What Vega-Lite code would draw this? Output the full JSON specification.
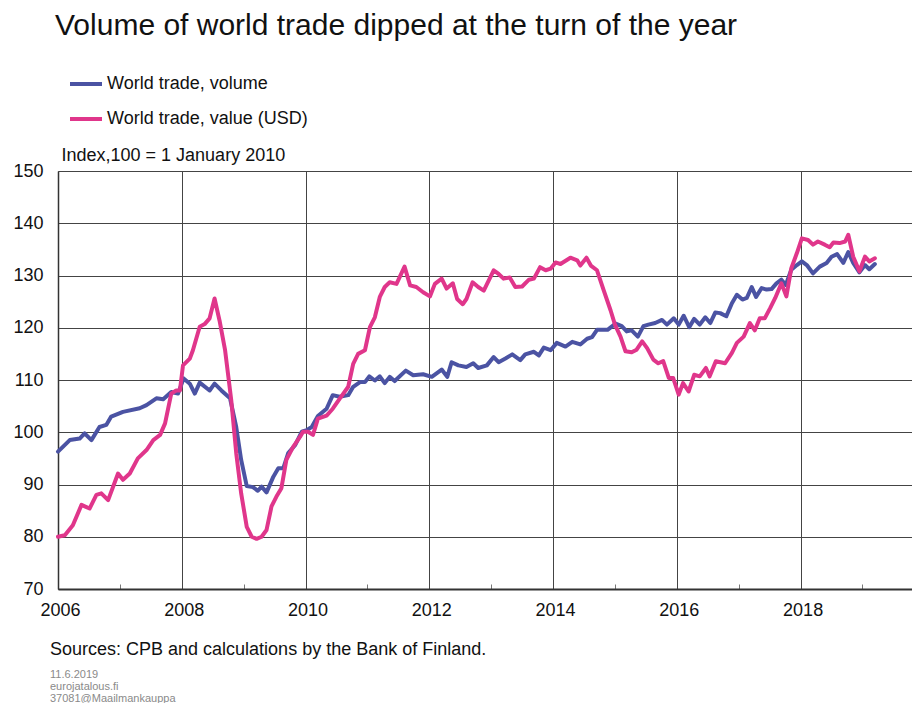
{
  "$schema": "https://vega.github.io/schema/vega-lite/v6.json",
  "width": 854,
  "height": 418,
  "autosize": {"type": "none"},
  "padding": {"left": 58, "top": 171, "right": 0, "bottom": 114},
  "background": "white",
  "config": {"view": {"stroke": null}, "font": "Liberation Sans"},
  "title": {
    "text": "Sources: CPB and calculations by the Bank of Finland.",
    "subtitle": ["11.6.2019", "eurojatalous.fi", "37081@Maailmankauppa"],
    "orient": "bottom",
    "anchor": "start",
    "frame": "group",
    "dx": -8,
    "offset": 22,
    "font": "Liberation Sans",
    "fontSize": 18,
    "fontWeight": "normal",
    "color": "#111111",
    "subtitleFont": "Liberation Sans",
    "subtitleFontSize": 11,
    "subtitleColor": "#8a8a8a",
    "subtitleLineHeight": 12,
    "subtitlePadding": 10
  },
  "data": {"values": [
    {"series": "World trade, volume", "year": 2006.00, "index": 96.3},
    {"series": "World trade, volume", "year": 2006.19, "index": 98.5},
    {"series": "World trade, volume", "year": 2006.35, "index": 98.8},
    {"series": "World trade, volume", "year": 2006.43, "index": 99.8},
    {"series": "World trade, volume", "year": 2006.54, "index": 98.5},
    {"series": "World trade, volume", "year": 2006.67, "index": 101.0},
    {"series": "World trade, volume", "year": 2006.78, "index": 101.4},
    {"series": "World trade, volume", "year": 2006.86, "index": 103.0},
    {"series": "World trade, volume", "year": 2007.05, "index": 103.9},
    {"series": "World trade, volume", "year": 2007.32, "index": 104.6},
    {"series": "World trade, volume", "year": 2007.43, "index": 105.2},
    {"series": "World trade, volume", "year": 2007.59, "index": 106.5},
    {"series": "World trade, volume", "year": 2007.70, "index": 106.3},
    {"series": "World trade, volume", "year": 2007.83, "index": 107.7},
    {"series": "World trade, volume", "year": 2007.94, "index": 107.4},
    {"series": "World trade, volume", "year": 2008.03, "index": 110.3},
    {"series": "World trade, volume", "year": 2008.13, "index": 109.3},
    {"series": "World trade, volume", "year": 2008.21, "index": 107.4},
    {"series": "World trade, volume", "year": 2008.29, "index": 109.5},
    {"series": "World trade, volume", "year": 2008.45, "index": 108.0},
    {"series": "World trade, volume", "year": 2008.53, "index": 109.3},
    {"series": "World trade, volume", "year": 2008.64, "index": 108.0},
    {"series": "World trade, volume", "year": 2008.78, "index": 106.5},
    {"series": "World trade, volume", "year": 2008.88, "index": 101.0},
    {"series": "World trade, volume", "year": 2008.96, "index": 94.7},
    {"series": "World trade, volume", "year": 2009.05, "index": 89.7},
    {"series": "World trade, volume", "year": 2009.15, "index": 89.5},
    {"series": "World trade, volume", "year": 2009.23, "index": 88.8},
    {"series": "World trade, volume", "year": 2009.29, "index": 89.6},
    {"series": "World trade, volume", "year": 2009.37, "index": 88.5},
    {"series": "World trade, volume", "year": 2009.48, "index": 91.5},
    {"series": "World trade, volume", "year": 2009.56, "index": 93.1},
    {"series": "World trade, volume", "year": 2009.64, "index": 93.1},
    {"series": "World trade, volume", "year": 2009.72, "index": 96.0},
    {"series": "World trade, volume", "year": 2009.83, "index": 97.5},
    {"series": "World trade, volume", "year": 2009.94, "index": 100.1},
    {"series": "World trade, volume", "year": 2010.02, "index": 100.4},
    {"series": "World trade, volume", "year": 2010.10, "index": 101.0},
    {"series": "World trade, volume", "year": 2010.20, "index": 103.1},
    {"series": "World trade, volume", "year": 2010.34, "index": 104.5},
    {"series": "World trade, volume", "year": 2010.44, "index": 107.1},
    {"series": "World trade, volume", "year": 2010.55, "index": 106.8},
    {"series": "World trade, volume", "year": 2010.69, "index": 107.1},
    {"series": "World trade, volume", "year": 2010.77, "index": 108.7},
    {"series": "World trade, volume", "year": 2010.88, "index": 109.6},
    {"series": "World trade, volume", "year": 2010.96, "index": 109.6},
    {"series": "World trade, volume", "year": 2011.03, "index": 110.7},
    {"series": "World trade, volume", "year": 2011.12, "index": 109.9},
    {"series": "World trade, volume", "year": 2011.20, "index": 110.7},
    {"series": "World trade, volume", "year": 2011.28, "index": 109.4},
    {"series": "World trade, volume", "year": 2011.36, "index": 110.6},
    {"series": "World trade, volume", "year": 2011.44, "index": 109.8},
    {"series": "World trade, volume", "year": 2011.62, "index": 111.8},
    {"series": "World trade, volume", "year": 2011.74, "index": 110.9},
    {"series": "World trade, volume", "year": 2011.90, "index": 111.1},
    {"series": "World trade, volume", "year": 2012.04, "index": 110.6},
    {"series": "World trade, volume", "year": 2012.20, "index": 112.0},
    {"series": "World trade, volume", "year": 2012.29, "index": 110.6},
    {"series": "World trade, volume", "year": 2012.36, "index": 113.4},
    {"series": "World trade, volume", "year": 2012.47, "index": 112.8},
    {"series": "World trade, volume", "year": 2012.60, "index": 112.5},
    {"series": "World trade, volume", "year": 2012.71, "index": 113.2},
    {"series": "World trade, volume", "year": 2012.79, "index": 112.3},
    {"series": "World trade, volume", "year": 2012.93, "index": 112.8},
    {"series": "World trade, volume", "year": 2013.04, "index": 114.4},
    {"series": "World trade, volume", "year": 2013.12, "index": 113.4},
    {"series": "World trade, volume", "year": 2013.23, "index": 114.1},
    {"series": "World trade, volume", "year": 2013.34, "index": 114.9},
    {"series": "World trade, volume", "year": 2013.47, "index": 113.8},
    {"series": "World trade, volume", "year": 2013.55, "index": 114.9},
    {"series": "World trade, volume", "year": 2013.69, "index": 115.4},
    {"series": "World trade, volume", "year": 2013.77, "index": 114.7},
    {"series": "World trade, volume", "year": 2013.85, "index": 116.2},
    {"series": "World trade, volume", "year": 2013.96, "index": 115.7},
    {"series": "World trade, volume", "year": 2014.06, "index": 117.1},
    {"series": "World trade, volume", "year": 2014.20, "index": 116.4},
    {"series": "World trade, volume", "year": 2014.31, "index": 117.3},
    {"series": "World trade, volume", "year": 2014.44, "index": 116.8},
    {"series": "World trade, volume", "year": 2014.55, "index": 117.9},
    {"series": "World trade, volume", "year": 2014.63, "index": 118.2},
    {"series": "World trade, volume", "year": 2014.71, "index": 119.6},
    {"series": "World trade, volume", "year": 2014.88, "index": 119.6},
    {"series": "World trade, volume", "year": 2015.01, "index": 120.8},
    {"series": "World trade, volume", "year": 2015.11, "index": 120.3},
    {"series": "World trade, volume", "year": 2015.19, "index": 119.3},
    {"series": "World trade, volume", "year": 2015.27, "index": 119.5},
    {"series": "World trade, volume", "year": 2015.37, "index": 118.3},
    {"series": "World trade, volume", "year": 2015.46, "index": 120.3},
    {"series": "World trade, volume", "year": 2015.54, "index": 120.6},
    {"series": "World trade, volume", "year": 2015.65, "index": 120.9},
    {"series": "World trade, volume", "year": 2015.76, "index": 121.5},
    {"series": "World trade, volume", "year": 2015.84, "index": 120.6},
    {"series": "World trade, volume", "year": 2015.95, "index": 121.8},
    {"series": "World trade, volume", "year": 2016.03, "index": 120.6},
    {"series": "World trade, volume", "year": 2016.11, "index": 122.3},
    {"series": "World trade, volume", "year": 2016.20, "index": 120.1},
    {"series": "World trade, volume", "year": 2016.28, "index": 121.7},
    {"series": "World trade, volume", "year": 2016.37, "index": 120.6},
    {"series": "World trade, volume", "year": 2016.46, "index": 122.0},
    {"series": "World trade, volume", "year": 2016.54, "index": 120.9},
    {"series": "World trade, volume", "year": 2016.62, "index": 122.9},
    {"series": "World trade, volume", "year": 2016.70, "index": 122.8},
    {"series": "World trade, volume", "year": 2016.80, "index": 122.2},
    {"series": "World trade, volume", "year": 2016.89, "index": 124.7},
    {"series": "World trade, volume", "year": 2016.97, "index": 126.3},
    {"series": "World trade, volume", "year": 2017.06, "index": 125.4},
    {"series": "World trade, volume", "year": 2017.13, "index": 125.7},
    {"series": "World trade, volume", "year": 2017.21, "index": 127.8},
    {"series": "World trade, volume", "year": 2017.28, "index": 125.9},
    {"series": "World trade, volume", "year": 2017.37, "index": 127.6},
    {"series": "World trade, volume", "year": 2017.45, "index": 127.3},
    {"series": "World trade, volume", "year": 2017.53, "index": 127.4},
    {"series": "World trade, volume", "year": 2017.61, "index": 128.5},
    {"series": "World trade, volume", "year": 2017.69, "index": 129.2},
    {"series": "World trade, volume", "year": 2017.76, "index": 128.2},
    {"series": "World trade, volume", "year": 2017.85, "index": 131.1},
    {"series": "World trade, volume", "year": 2017.94, "index": 132.0},
    {"series": "World trade, volume", "year": 2018.02, "index": 132.7},
    {"series": "World trade, volume", "year": 2018.10, "index": 132.0},
    {"series": "World trade, volume", "year": 2018.20, "index": 130.4},
    {"series": "World trade, volume", "year": 2018.31, "index": 131.7},
    {"series": "World trade, volume", "year": 2018.42, "index": 132.4},
    {"series": "World trade, volume", "year": 2018.50, "index": 133.6},
    {"series": "World trade, volume", "year": 2018.59, "index": 134.1},
    {"series": "World trade, volume", "year": 2018.69, "index": 132.4},
    {"series": "World trade, volume", "year": 2018.77, "index": 134.5},
    {"series": "World trade, volume", "year": 2018.85, "index": 132.4},
    {"series": "World trade, volume", "year": 2018.95, "index": 130.6},
    {"series": "World trade, volume", "year": 2019.04, "index": 132.0},
    {"series": "World trade, volume", "year": 2019.11, "index": 131.2},
    {"series": "World trade, volume", "year": 2019.20, "index": 132.2},
    {"series": "World trade, value (USD)", "year": 2006.00, "index": 80.0},
    {"series": "World trade, value (USD)", "year": 2006.11, "index": 80.3},
    {"series": "World trade, value (USD)", "year": 2006.24, "index": 82.2},
    {"series": "World trade, value (USD)", "year": 2006.38, "index": 86.1},
    {"series": "World trade, value (USD)", "year": 2006.51, "index": 85.4},
    {"series": "World trade, value (USD)", "year": 2006.62, "index": 88.0},
    {"series": "World trade, value (USD)", "year": 2006.70, "index": 88.3},
    {"series": "World trade, value (USD)", "year": 2006.81, "index": 87.0},
    {"series": "World trade, value (USD)", "year": 2006.97, "index": 92.1},
    {"series": "World trade, value (USD)", "year": 2007.05, "index": 90.9},
    {"series": "World trade, value (USD)", "year": 2007.16, "index": 92.1},
    {"series": "World trade, value (USD)", "year": 2007.29, "index": 95.0},
    {"series": "World trade, value (USD)", "year": 2007.43, "index": 96.6},
    {"series": "World trade, value (USD)", "year": 2007.54, "index": 98.5},
    {"series": "World trade, value (USD)", "year": 2007.65, "index": 99.5},
    {"series": "World trade, value (USD)", "year": 2007.73, "index": 101.7},
    {"series": "World trade, value (USD)", "year": 2007.83, "index": 107.4},
    {"series": "World trade, value (USD)", "year": 2007.91, "index": 108.0},
    {"series": "World trade, value (USD)", "year": 2007.97, "index": 108.0},
    {"series": "World trade, value (USD)", "year": 2008.02, "index": 112.8},
    {"series": "World trade, value (USD)", "year": 2008.13, "index": 114.1},
    {"series": "World trade, value (USD)", "year": 2008.18, "index": 115.7},
    {"series": "World trade, value (USD)", "year": 2008.29, "index": 120.2},
    {"series": "World trade, value (USD)", "year": 2008.37, "index": 120.7},
    {"series": "World trade, value (USD)", "year": 2008.45, "index": 121.8},
    {"series": "World trade, value (USD)", "year": 2008.53, "index": 125.6},
    {"series": "World trade, value (USD)", "year": 2008.61, "index": 121.4},
    {"series": "World trade, value (USD)", "year": 2008.70, "index": 115.7},
    {"series": "World trade, value (USD)", "year": 2008.80, "index": 106.1},
    {"series": "World trade, value (USD)", "year": 2008.88, "index": 96.0},
    {"series": "World trade, value (USD)", "year": 2008.96, "index": 88.3},
    {"series": "World trade, value (USD)", "year": 2009.05, "index": 81.9},
    {"series": "World trade, value (USD)", "year": 2009.13, "index": 80.0},
    {"series": "World trade, value (USD)", "year": 2009.21, "index": 79.6},
    {"series": "World trade, value (USD)", "year": 2009.29, "index": 80.0},
    {"series": "World trade, value (USD)", "year": 2009.37, "index": 81.3},
    {"series": "World trade, value (USD)", "year": 2009.45, "index": 85.8},
    {"series": "World trade, value (USD)", "year": 2009.53, "index": 87.7},
    {"series": "World trade, value (USD)", "year": 2009.61, "index": 89.3},
    {"series": "World trade, value (USD)", "year": 2009.69, "index": 94.7},
    {"series": "World trade, value (USD)", "year": 2009.80, "index": 97.2},
    {"series": "World trade, value (USD)", "year": 2009.91, "index": 99.1},
    {"series": "World trade, value (USD)", "year": 2009.96, "index": 100.1},
    {"series": "World trade, value (USD)", "year": 2010.04, "index": 100.1},
    {"series": "World trade, value (USD)", "year": 2010.12, "index": 99.5},
    {"series": "World trade, value (USD)", "year": 2010.20, "index": 102.6},
    {"series": "World trade, value (USD)", "year": 2010.34, "index": 103.2},
    {"series": "World trade, value (USD)", "year": 2010.44, "index": 104.5},
    {"series": "World trade, value (USD)", "year": 2010.55, "index": 106.4},
    {"series": "World trade, value (USD)", "year": 2010.69, "index": 108.7},
    {"series": "World trade, value (USD)", "year": 2010.77, "index": 113.1},
    {"series": "World trade, value (USD)", "year": 2010.85, "index": 115.0},
    {"series": "World trade, value (USD)", "year": 2010.96, "index": 115.7},
    {"series": "World trade, value (USD)", "year": 2011.04, "index": 120.1},
    {"series": "World trade, value (USD)", "year": 2011.12, "index": 122.0},
    {"series": "World trade, value (USD)", "year": 2011.20, "index": 125.9},
    {"series": "World trade, value (USD)", "year": 2011.28, "index": 127.8},
    {"series": "World trade, value (USD)", "year": 2011.36, "index": 128.7},
    {"series": "World trade, value (USD)", "year": 2011.47, "index": 128.4},
    {"series": "World trade, value (USD)", "year": 2011.60, "index": 131.7},
    {"series": "World trade, value (USD)", "year": 2011.69, "index": 128.1},
    {"series": "World trade, value (USD)", "year": 2011.79, "index": 127.8},
    {"series": "World trade, value (USD)", "year": 2011.90, "index": 126.8},
    {"series": "World trade, value (USD)", "year": 2012.01, "index": 126.0},
    {"series": "World trade, value (USD)", "year": 2012.09, "index": 128.4},
    {"series": "World trade, value (USD)", "year": 2012.20, "index": 129.4},
    {"series": "World trade, value (USD)", "year": 2012.28, "index": 127.5},
    {"series": "World trade, value (USD)", "year": 2012.38, "index": 128.5},
    {"series": "World trade, value (USD)", "year": 2012.45, "index": 125.5},
    {"series": "World trade, value (USD)", "year": 2012.54, "index": 124.5},
    {"series": "World trade, value (USD)", "year": 2012.60, "index": 125.5},
    {"series": "World trade, value (USD)", "year": 2012.70, "index": 128.7},
    {"series": "World trade, value (USD)", "year": 2012.79, "index": 127.8},
    {"series": "World trade, value (USD)", "year": 2012.88, "index": 127.1},
    {"series": "World trade, value (USD)", "year": 2013.04, "index": 131.0},
    {"series": "World trade, value (USD)", "year": 2013.12, "index": 130.3},
    {"series": "World trade, value (USD)", "year": 2013.20, "index": 129.4},
    {"series": "World trade, value (USD)", "year": 2013.30, "index": 129.6},
    {"series": "World trade, value (USD)", "year": 2013.39, "index": 127.8},
    {"series": "World trade, value (USD)", "year": 2013.50, "index": 127.9},
    {"series": "World trade, value (USD)", "year": 2013.61, "index": 129.2},
    {"series": "World trade, value (USD)", "year": 2013.69, "index": 129.4},
    {"series": "World trade, value (USD)", "year": 2013.79, "index": 131.6},
    {"series": "World trade, value (USD)", "year": 2013.88, "index": 131.0},
    {"series": "World trade, value (USD)", "year": 2013.96, "index": 131.3},
    {"series": "World trade, value (USD)", "year": 2014.04, "index": 132.5},
    {"series": "World trade, value (USD)", "year": 2014.12, "index": 132.2},
    {"series": "World trade, value (USD)", "year": 2014.28, "index": 133.4},
    {"series": "World trade, value (USD)", "year": 2014.39, "index": 132.9},
    {"series": "World trade, value (USD)", "year": 2014.44, "index": 131.9},
    {"series": "World trade, value (USD)", "year": 2014.54, "index": 133.4},
    {"series": "World trade, value (USD)", "year": 2014.61, "index": 131.9},
    {"series": "World trade, value (USD)", "year": 2014.71, "index": 131.0},
    {"series": "World trade, value (USD)", "year": 2014.82, "index": 127.1},
    {"series": "World trade, value (USD)", "year": 2014.93, "index": 123.3},
    {"series": "World trade, value (USD)", "year": 2015.00, "index": 120.6},
    {"series": "World trade, value (USD)", "year": 2015.09, "index": 118.3},
    {"series": "World trade, value (USD)", "year": 2015.17, "index": 115.5},
    {"series": "World trade, value (USD)", "year": 2015.27, "index": 115.3},
    {"series": "World trade, value (USD)", "year": 2015.35, "index": 115.8},
    {"series": "World trade, value (USD)", "year": 2015.44, "index": 117.4},
    {"series": "World trade, value (USD)", "year": 2015.52, "index": 116.1},
    {"series": "World trade, value (USD)", "year": 2015.62, "index": 113.9},
    {"series": "World trade, value (USD)", "year": 2015.70, "index": 113.2},
    {"series": "World trade, value (USD)", "year": 2015.78, "index": 113.6},
    {"series": "World trade, value (USD)", "year": 2015.87, "index": 110.4},
    {"series": "World trade, value (USD)", "year": 2015.94, "index": 110.4},
    {"series": "World trade, value (USD)", "year": 2016.03, "index": 107.2},
    {"series": "World trade, value (USD)", "year": 2016.10, "index": 109.4},
    {"series": "World trade, value (USD)", "year": 2016.19, "index": 107.8},
    {"series": "World trade, value (USD)", "year": 2016.28, "index": 111.0},
    {"series": "World trade, value (USD)", "year": 2016.37, "index": 110.7},
    {"series": "World trade, value (USD)", "year": 2016.47, "index": 112.3},
    {"series": "World trade, value (USD)", "year": 2016.53, "index": 110.7},
    {"series": "World trade, value (USD)", "year": 2016.63, "index": 113.6},
    {"series": "World trade, value (USD)", "year": 2016.78, "index": 113.2},
    {"series": "World trade, value (USD)", "year": 2016.89, "index": 115.2},
    {"series": "World trade, value (USD)", "year": 2016.97, "index": 117.1},
    {"series": "World trade, value (USD)", "year": 2017.08, "index": 118.3},
    {"series": "World trade, value (USD)", "year": 2017.18, "index": 120.9},
    {"series": "World trade, value (USD)", "year": 2017.26, "index": 119.5},
    {"series": "World trade, value (USD)", "year": 2017.34, "index": 121.8},
    {"series": "World trade, value (USD)", "year": 2017.42, "index": 121.8},
    {"series": "World trade, value (USD)", "year": 2017.51, "index": 123.8},
    {"series": "World trade, value (USD)", "year": 2017.59, "index": 125.7},
    {"series": "World trade, value (USD)", "year": 2017.69, "index": 128.5},
    {"series": "World trade, value (USD)", "year": 2017.77, "index": 126.0},
    {"series": "World trade, value (USD)", "year": 2017.85, "index": 131.4},
    {"series": "World trade, value (USD)", "year": 2017.94, "index": 134.3},
    {"series": "World trade, value (USD)", "year": 2018.02, "index": 137.1},
    {"series": "World trade, value (USD)", "year": 2018.12, "index": 136.8},
    {"series": "World trade, value (USD)", "year": 2018.20, "index": 135.9},
    {"series": "World trade, value (USD)", "year": 2018.28, "index": 136.5},
    {"series": "World trade, value (USD)", "year": 2018.39, "index": 135.9},
    {"series": "World trade, value (USD)", "year": 2018.47, "index": 135.4},
    {"series": "World trade, value (USD)", "year": 2018.53, "index": 136.3},
    {"series": "World trade, value (USD)", "year": 2018.63, "index": 136.2},
    {"series": "World trade, value (USD)", "year": 2018.72, "index": 136.5},
    {"series": "World trade, value (USD)", "year": 2018.77, "index": 137.8},
    {"series": "World trade, value (USD)", "year": 2018.85, "index": 133.6},
    {"series": "World trade, value (USD)", "year": 2018.95, "index": 130.8},
    {"series": "World trade, value (USD)", "year": 2019.04, "index": 133.6},
    {"series": "World trade, value (USD)", "year": 2019.11, "index": 132.7},
    {"series": "World trade, value (USD)", "year": 2019.20, "index": 133.3}
  ]},
  "mark": {"type": "line", "strokeWidth": 4, "strokeJoin": "round", "strokeCap": "round"},
  "encoding": {
    "x": {
      "field": "year",
      "type": "quantitative",
      "scale": {"domain": [2006, 2019.8], "nice": false, "zero": false},
      "axis": {
        "title": null,
        "values": [2006, 2007, 2008, 2009, 2010, 2011, 2012, 2013, 2014, 2015, 2016, 2017, 2018, 2019],
        "format": "d",
        "labelExpr": "datum.value % 2 == 0 ? datum.label : ''",
        "labelFont": "Liberation Sans",
        "labelFontSize": 18,
        "labelColor": "#111111",
        "labelPadding": 12,
        "labelOffset": 2,
        "labelFlush": false,
        "labelOverlap": false,
        "grid": true,
        "gridColor": "#444444",
        "gridWidth": 1,
        "gridOpacity": {"condition": {"test": "datum.value % 2 == 1", "value": 0}, "value": 1},
        "ticks": true,
        "tickColor": "#777777",
        "tickWidth": 1,
        "tickSize": {"condition": {"test": "datum.value % 2 == 1", "value": -5}, "value": 0},
        "domain": true,
        "domainColor": "#333333",
        "domainWidth": 2
      }
    },
    "y": {
      "field": "index",
      "type": "quantitative",
      "scale": {"domain": [70, 150], "nice": false, "zero": false},
      "axis": {
        "title": "Index,100 = 1 January 2010",
        "titleAngle": 0,
        "titleAlign": "left",
        "titleBaseline": "alphabetic",
        "titleX": 3,
        "titleY": -11,
        "titleFont": "Liberation Sans",
        "titleFontSize": 18,
        "titleFontWeight": "normal",
        "titleColor": "#111111",
        "values": [70, 80, 90, 100, 110, 120, 130, 140, 150],
        "labelFont": "Liberation Sans",
        "labelFontSize": 18,
        "labelColor": "#111111",
        "labelPadding": 15,
        "ticks": false,
        "grid": true,
        "gridColor": "#444444",
        "gridWidth": 1,
        "domain": true,
        "domainColor": "#333333",
        "domainWidth": 1.5
      }
    },
    "color": {
      "field": "series",
      "type": "nominal",
      "sort": ["World trade, volume", "World trade, value (USD)"],
      "scale": {"domain": ["World trade, volume", "World trade, value (USD)"], "range": ["#4b53a3", "#e0368b"]},
      "legend": {
        "orient": "none",
        "legendX": -3,
        "legendY": -160,
        "title": "Volume of world trade dipped at the turn of the year",
        "titleFont": "Liberation Sans",
        "titleFontSize": 30,
        "titleFontWeight": "normal",
        "titleColor": "#111111",
        "titleLimit": 0,
        "titlePadding": 25,
        "labelFont": "Liberation Sans",
        "labelFontSize": 18,
        "labelColor": "#111111",
        "labelLimit": 0,
        "labelOffset": 3,
        "symbolType": "stroke",
        "symbolSize": 1024,
        "symbolStrokeWidth": 4,
        "symbolOffset": 13,
        "rowPadding": 8,
        "direction": "vertical"
      }
    }
  }
}
